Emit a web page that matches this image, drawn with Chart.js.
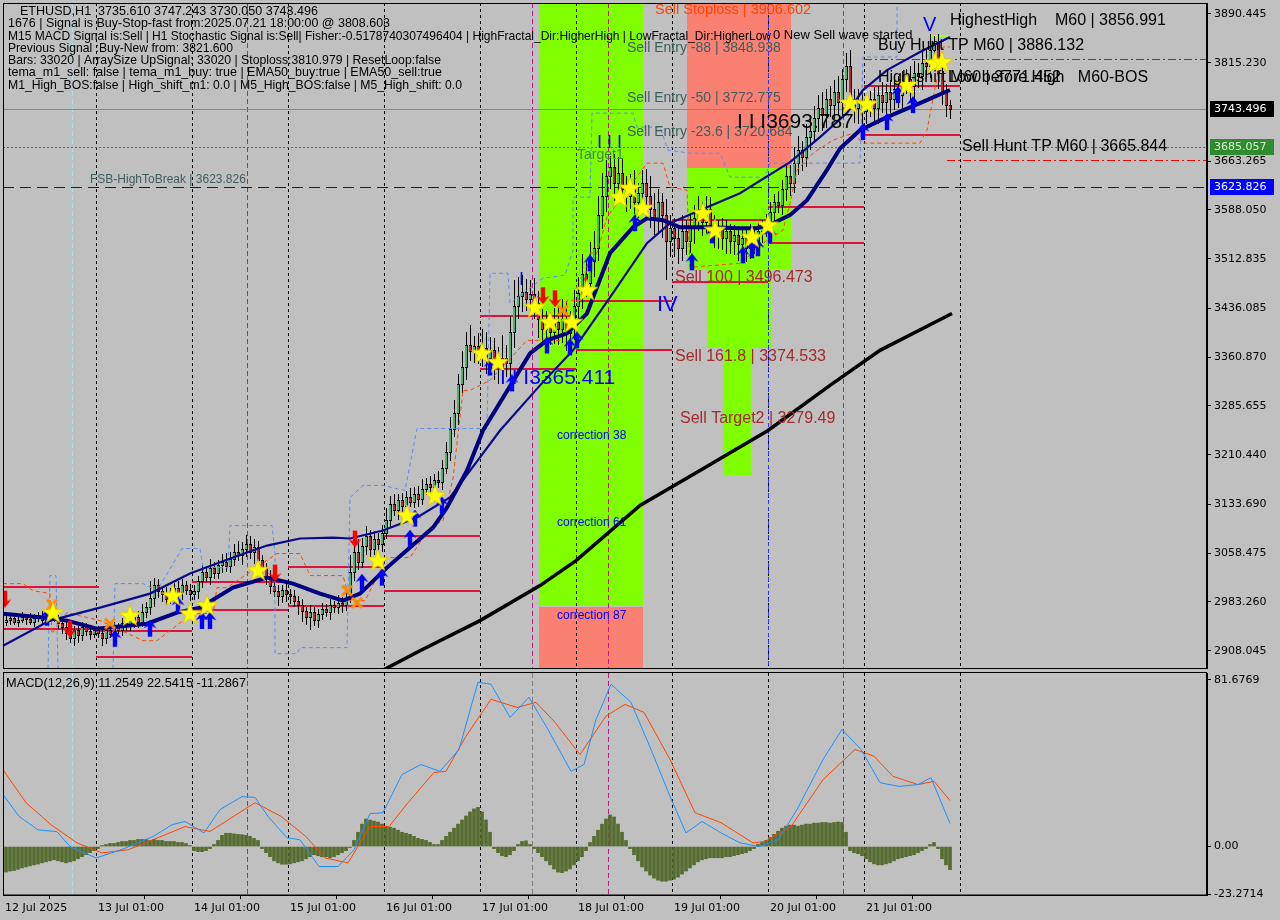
<!DOCTYPE html>
<html><head><meta charset="utf-8">
<script src="https://cdn.jsdelivr.net/npm/chart.js"></script>
<style>
html,body{margin:0;padding:0;background:#c0c0c0;width:1280px;height:920px;overflow:hidden}
#c1{position:absolute;left:0;top:0}
#c2{position:absolute;left:0;top:672px}
</style></head><body>
<canvas id="c1" width="1280" height="672"></canvas>
<canvas id="c2" width="1280" height="248"></canvas>
<script>
// ---------------- DATA ----------------
const dayLabels = ['12 Jul 2025','13 Jul 01:00','14 Jul 01:00','15 Jul 01:00','16 Jul 01:00','17 Jul 01:00','18 Jul 01:00','19 Jul 01:00','20 Jul 01:00','21 Jul 01:00'];
const dayTickIdx = [-0.75,22.5,46.5,70.5,94.5,118.5,142.5,166.5,190.5,214.5];
const daySeparators = [22.5,46.5,70.5,94.5,118.5,142.5,166.5,190.5,214.5,238.5];
const priceTicks = [3890.445,3815.230,3663.265,3588.050,3512.835,3436.085,3360.870,3285.655,3210.440,3133.690,3058.475,2983.260,2908.045];
const macdTicks = [81.6769,0,-23.2714];

const firstOpen = 2952;
const closes = [
2955,2958,2952,2956,2960,2957,2953,2958,2962,2955,2960,2964,2958,2950,2944,2936,2928,2940,2932,2945,2938,2934,2940,
2936,2928,2940,2934,2945,2940,2950,2946,2955,2960,2952,2968,2975,2990,3010,3000,2995,2988,2996,3005,2998,3010,3002,2995,
3000,3015,3030,3022,3035,3028,3040,3045,3038,3050,3060,3055,3065,3072,3060,3068,3048,3035,3020,3008,3000,2992,3002,2995,
2992,2985,2978,2970,2960,2968,2955,2965,2972,2968,2978,2975,2982,2978,2990,3030,3060,3045,3070,3085,3065,3080,3072,3090,
3110,3135,3125,3140,3132,3145,3138,3150,3142,3158,3165,3160,3172,3168,3190,3215,3250,3275,3320,3345,3380,3370,3378,3365,
3375,3360,3372,3355,3345,3360,3352,3400,3440,3455,3462,3450,3458,3445,3420,3405,3412,3400,3415,3405,3420,3398,3412,3440,
3460,3490,3475,3510,3530,3580,3610,3640,3655,3630,3645,3620,3610,3625,3600,3615,3630,3610,3590,3575,3600,3580,3540,3560,
3545,3530,3555,3540,3560,3575,3585,3570,3590,3565,3550,3560,3545,3555,3540,3550,3535,3545,3530,3548,3540,3555,3562,3570,
3585,3600,3595,3620,3640,3630,3660,3680,3670,3700,3710,3730,3745,3735,3760,3750,3770,3755,3790,3810,3760,3745,3755,3740,
3750,3760,3745,3765,3755,3770,3760,3775,3765,3785,3790,3780,3800,3795,3815,3810,3835,3845,3800,3770,3750,3743.496];
const upWick = [
6,5,8,4,7,5,9,6,5,8,6,7,10,5,6,8,12,6,8,7,5,9,6,
6,8,5,9,7,6,8,10,7,6,9,12,8,25,10,8,6,12,9,7,10,8,6,9,
10,8,12,9,15,10,8,12,14,10,12,18,10,15,13,12,10,8,9,12,8,10,7,9,
8,10,7,9,6,10,8,7,9,8,10,7,12,9,8,25,15,20,12,15,10,12,10,12,
18,12,15,10,12,9,14,10,12,15,10,12,9,14,12,15,18,20,15,25,20,30,15,20,
30,25,20,18,22,35,20,25,40,30,25,20,22,25,18,15,20,18,22,25,30,28,20,25,
25,30,20,28,25,30,35,25,17,20,25,22,20,18,25,15,20,22,30,25,20,15,25,20,
15,20,25,18,22,20,25,15,20,18,15,12,15,18,12,15,10,12,15,18,12,15,10,12,
15,12,18,15,20,18,25,22,15,20,25,18,20,25,15,20,18,25,15,20,25,15,20,18,
15,12,18,15,20,12,18,15,20,18,15,20,18,15,22,20,25,12,15,18,12,8];
const downWick = [
6,8,5,7,6,9,5,8,6,7,5,8,6,9,10,12,8,12,12,9,8,10,7,
8,12,9,7,10,6,9,8,7,12,9,8,10,12,15,10,12,9,8,10,9,12,8,10,
9,12,10,8,12,9,10,12,9,10,12,9,15,12,10,18,12,15,10,12,9,15,10,12,
12,10,15,18,12,20,9,12,10,8,12,9,10,12,9,8,15,12,10,15,12,10,9,12,
10,12,9,15,10,12,9,10,12,9,10,12,10,9,12,10,15,12,18,15,20,15,18,15,
20,25,18,30,25,20,22,28,25,20,25,18,20,25,30,22,25,20,18,25,22,28,20,25,
20,25,22,18,25,20,22,25,20,28,25,22,25,20,18,25,22,20,30,25,22,35,60,25,
30,25,20,22,18,25,20,22,18,25,20,22,18,25,20,22,25,20,22,18,20,15,18,15,
15,18,12,15,18,20,15,18,22,15,20,18,22,25,20,18,22,20,25,20,18,22,25,20,
20,18,22,25,18,20,22,18,20,22,18,25,20,18,22,20,18,22,25,20,18,15];

// moving averages read at key points [barIndex, price]
const maSlowPts = [[-0.75,2965.2],[9.25,2959.1],[15.25,2954.4],[22.75,2942.0],[35.25,2949.7],[42.75,2966.7],[48.5,2974.4],[56.75,3005.3],[65.25,3020.8],[71.75,3011.5],[78.5,2996.1],[84.25,2985.2],[88.5,2996.1],[95.25,3036.2],[101,3067.2],[106.75,3098.0],[110.25,3128.9],[115.25,3186.0],[119.25,3247.8],[131,3366.8],[135.25,3386.9],[140.25,3397.7],[145.25,3428.6],[151,3521.4],[156.75,3561.4],[160.25,3575.3],[164.25,3572.2],[168.5,3561.4],[175.25,3561.4],[183.5,3559.9],[187.75,3559.9],[191.75,3567.6],[196,3580.0],[200.25,3603.1],[205.25,3650],[208.5,3683],[213.5,3711.2],[220.25,3731.3],[228.5,3753.0],[236,3773.1]];
const maFastPts = [[-0.75,2915.7],[11,2954.4],[23.5,2974.4],[36,2996.1],[46,3027.0],[56.75,3051.7],[65.25,3070.2],[73.5,3081.1],[81.75,3082.6],[86,3081.1],[94.25,3093.4],[102.75,3113.5],[111,3144.4],[118.5,3206.2],[123.5,3247.8],[133.5,3317.4],[141.75,3371.4],[151,3453.3],[160.25,3536.7],[166,3567.6],[173.5,3587.7],[183.5,3613.9],[196,3661.8],[203.5,3700.4],[210.25,3737.5],[214.25,3773.1],[220.25,3803.9],[228.5,3831.7],[236,3854.9]];
const ma200Pts = [[93.5,2875.6],[103.5,2908],[118.5,2954.4],[133.5,3008.4],[142.5,3047.0],[158.5,3132.0],[173.5,3186.0],[190.5,3247.8],[206,3317.4],[218.5,3371.4],[236.5,3428.2]];
const bandUpperPts = [[10.5,2880.2],[11,3023.9],[12.5,3023.9],[13,2880.2],[null,null],[26.75,2880.2],[27.25,3011.5],[34.25,3011.5],[37.75,3000.7],[43,3054.8],[44,3065.6],[48.5,3065.6],[49.25,3036.2],[55.5,3036.2],[56,3101.1],[66.5,3101.1],[67.25,3059.4],[67.25,2903.4],[72.75,2903.4],[73.5,2912.7],[85.25,2912.7],[86,3144.4],[89.25,3162.9],[94.25,3162.9],[99.75,3155.2],[102.75,3250.9],[120.25,3250.9],[121,3490.4],[125.5,3490.4],[126,3444.0],[134.25,3482.7],[139.75,3487.3],[141.75,3525.9],[141.75,3607.8],[146,3607.8],[146.5,3737.5],[156.75,3737.5],[157.75,3715.9],[163.5,3715.9],[165.5,3680.4],[171,3675.7],[178.5,3675.7],[181,3638.7],[189.75,3638.7],[191,3660.3],[213.5,3660.3],[214.25,3824.0],[222.75,3824.0],[222.75,3901.3]];
const bandLowerPts = [[-0.75,3011.5],[4.25,3011.5],[6.75,3000.7],[11,2996.1],[11.5,2934.3],[15.25,2966.7],[23.5,2954.4],[34.25,2923.4],[37.75,2923.4],[46.5,2965.2],[51.75,2965.2],[52.75,3005.3],[55.25,3005.3],[67.75,3057.9],[73.5,3057.9],[76,3023.9],[84.25,3023.9],[86,2985.2],[89.75,2985.2],[95.25,3051.7],[101,3051.7],[106,3098.0],[109.25,3108.8],[111.75,3173.7],[114.25,3309.6],[116,3309.6],[121,3325.1],[130.25,3386.9],[138.5,3386.9],[140.25,3448.7],[143.5,3448.7],[146,3521.4],[147.75,3521.4],[150.25,3576.9],[160.25,3660.3],[164.25,3660.3],[166,3623.2],[170.25,3618.6],[171,3499.6],[183.5,3505.8],[190.25,3541.3],[194.25,3556.8],[196,3598.5],[197.75,3649.5],[201.75,3675.7],[206.75,3695.8],[211.75,3706.6],[214.25,3691.2],[228.5,3691.2],[230.25,3711.2],[234.25,3839.5],[236,3839.5]];

// signal markers [barIndex, price]
const starPts = [[11.75,2966.7],[31,2962.1],[41.75,2993.0],[46,2965.2],[50.25,2977.6],[63,3032.0],[93,3047.0],[100.25,3116.6],[107.25,3147.4],[119,3366.8],[123,3352.9],[132.25,3437.8],[136,3414.7],[141.5,3414.7],[145.25,3464.1],[153.5,3607.8],[156,3621.7],[159.25,3590.8],[174.25,3583.0],[177.25,3556.8],[186.5,3545.9],[190.5,3564.5],[211,3753.0],[215.25,3751.4],[225.25,3780.8],[232.25,3814.8],[234,3816.3]];
const buyArrowPts = [[10.25,2959],[27.25,2926.5],[36,2942],[43,2977.5],[49,2954],[51,2954],[89,3013],[94,3020.8],[101,3081],[102.25,3111.9],[109,3132],[121,3345],[126.5,3320.5],[135.25,3379],[141,3376],[142.75,3386.9],[146,3505.8],[157.25,3567.6],[171.5,3507.3],[176.5,3549],[184.25,3518],[186.5,3525.9],[188,3529],[191,3549],[214.25,3708.2],[220.25,3723.6],[223,3765.3],[226.75,3749.9]];
const sellArrowPts = [[-0.25,2988.3],[16,2942],[67.25,3028.5],[87.25,3081],[134.25,3456.4],[137.25,3451.8]];
const crossPts = [[11.5,2979],[26,2949.7],[85.25,3000.7],[87.75,2982],[139.25,3433.2]];

// zones [fromBar, toBar, lowPrice, highPrice]
const greenZones = [[133.25,159.25,2976,3910],[170.25,196.25,3496.473,3652.6],[175.25,191.25,3374.533,3496.473],[179.25,186.25,3178.3,3374.533]];
const salmonZones = [[133.25,159.25,2870,2976],[170.25,196.25,3652.6,3910]];

// daily range segments (upper, lower) per day
const dayUpper = [3006.9,2937.8,3013.5,3036.7,3085.7,3423.9,3447.6,3572.2,3592.3,3779.2];
const dayLower = [2942.0,2897.7,2971.3,2976.4,3000.7,3342.1,3372.5,3476.5,3536.7,3703.5];
const dayStart = [-0.75,22.5,46.5,70.5,94.5,118.5,142.5,166.5,190.5,214.5];

const currentPrice = 3743.496, target1Level = 3685.057, fsbLevel = 3623.826;
const buyHuntLevel = 3821.6, sellHuntLevel = 3665.844, highShiftLevel = 3771.452, highestHigh = 3857;

// MACD
const macdHist = [
-12.5,-12,-11.8,-11.2,-10.5,-10,-9.5,-9,-8.6,-8,-7.5,-7,-6.5,-7,-7.5,-8,-7.5,
-7,-6,-5,-4,-3,-2,
-1,0.5,1,1.5,1.5,2,2.5,2.5,3,3,3.5,3.5,3.5,3,3.5,3,3,2.5,2.5,2.5,2,2,1.5,0.5,
-2,-2.5,-2.5,-2,-1,1,
3,5.5,6.5,6.5,6.2,6,5.8,5.5,5,4,3,
-1,-3,-5,-7,-8,-8.7,-8.7,-8.5,-8,-7.5,-7,-6,-5,-4,-4.5,-5,
-5,-5.5,-5,-4,-3,-2,-0.5,
3,7,11,13.5,13,12.5,12,11,10,9.5,9,8,7,6.5,6,5,4,3.5,3,2,1,
1,3,5,7,9,11,13,15,17,18.5,19.2,17,13,7,
-1,-3,-4.5,-5,-4,-2,1,2.5,2.8,
1,-1,
-3,-5,-7,-9,-11,-12.5,-12.8,-12,-11,-9,-7,-5,-2,
2,5,8,11,13.5,15.5,14.5,11,7,3,
-1,-4,-7,-10,-12,-14,-15.5,-16.5,-17,-17,-16.5,-16,-15,-13.5,-12,-10.5,-9,-7.5,-6.5,-6,-5.5,-5.5,-5.5,-5.5,-5,-5,-4.5,-4,-3.5,-3,-2,-1,
1,2,3,4.5,6,7.5,9,10,10.5,10.5,10,10.5,11,11,11.5,11.5,11.8,11.8,11.5,11.8,12,11.8,7,
-2,-3,-3.5,-4.5,-6,-7.5,-8.5,-9,-9,-8.5,-8,-7,-6,-5.5,-5,-4.5,-4,-3,-2,-1,1,2,-1,-6,-9,-11.3];
const macdPts = [[-0.75,25.5],[3.25,14.8],[8,8.2],[12.75,7.3],[16,0],[22.5,-5.6],[28.75,-1.6],[36.75,4.9],[41.5,10.7],[44.75,12.3],[49.5,6.7],[53.5,18.1],[59,24.5],[62.25,24.1],[65.5,14.8],[70.25,4.3],[73.5,3.3],[78.25,-9.8],[83,-9.8],[87,-1.6],[91,16.1],[94.25,16.6],[99,35.3],[103.75,40.2],[108.5,36.9],[113.25,47.6],[118,80.6],[121.25,79.6],[126,63.3],[130.75,73.2],[135.5,57.4],[141.25,36.9],[144.5,40.2],[147.5,62.3],[151.25,79.6],[156.25,70.7],[161.25,47.6],[166,24.6],[170,6.7],[174,12.3],[178.75,6.7],[183.5,1.8],[188.25,0],[193,3.3],[197.75,18.1],[204.25,42.7],[209,57.4],[213.75,47.6],[218.5,31.3],[223.25,29.5],[228,30.4],[231.25,33.8],[236,11.2549]];
const signalPts = [[-0.75,37.7],[5,21.5],[11.25,10.7],[17.75,1.8],[24,-3.1],[30.5,-1.6],[36.75,3.3],[44.75,9.8],[51,7.4],[62.25,21.5],[68.75,14.8],[75,4.9],[79.75,-5.6],[85.5,-8.0],[91,9.8],[95.75,9.8],[100.5,21.5],[107,36.3],[110,36.9],[115,54.1],[121.25,72.2],[127.75,68.2],[132.5,70.7],[137.25,60.9],[143.5,45.1],[150,64.0],[154.75,69.7],[159.5,65.8],[166,42.7],[172.25,16.6],[178.75,11.7],[186.75,1.8],[189.75,2.5],[196.25,9.8],[204.25,32.8],[212.25,47.6],[217,44.3],[221.75,34.4],[228,30.4],[232,32.0],[236,22.5415]];

// ---------------- LAYOUT / STYLE ----------------
const X_MIN=-0.75, X_MAX=300.25, P_MIN=2881.3, P_MAX=3907.4;
const SANS='"Liberation Sans", Arial, sans-serif', AXF='"DejaVu Sans", sans-serif';
const infoLines = [
 ['ETHUSD,H1  3735.610 3747.243 3730.050 3743.496',20,12,298],
 ['1676 | Signal is Buy-Stop-fast from:2025.07.21 18:00:00 @ 3808.603',8,24,382],
 ['M15 MACD Signal is:Sell | H1 Stochastic Signal is:Sell| Fisher:-0.5178740307496404 | HighFractal_Dir:HigherHigh | LowFractal_Dir:HigherLow',8,37,763],
 ['Previous Signal :Buy-New from: 3821.600',8,49,225],
 ['Bars: 33020 | ArraySize UpSignal: 33020 | Stoploss:3810.979 | ResetLoop:false',8,61,433],
 ['tema_m1_sell: false | tema_m1_buy: true | EMA50_buy:true | EMA50_sell:true',8,73,434],
 ['M1_High_BOS:false | High_shift_m1: 0.0 | M5_High_BOS:false | M5_High_shift: 0.0',8,86,454]];
const notes = [
 ['Sell Stoploss | 3906.602',162.25,3896.6,'#FF4500',14.5],
 ['Sell Entry -88 | 3848.938',155.25,3837.9,'#3E5E5E',14],
 ['Sell Entry -50 | 3772.775',155.25,3760.7,'#3E5E5E',14],
 ['Sell Entry -23.6 | 3720.684',155.25,3708.2,'#3E5E5E',14],
 ['Target1',142.75,3672.6,'#3C8C3C',14],
 ['I I I',147.75,3692,'#0000FF',18],
 ['I',128.25,3480,'#0000FF',18],
 ['IV',162.75,3441,'#0000FF',22],
 ['V',229.25,3872,'#0000FF',20],
 ['I I I3365.411',123.5,3328.2,'#0000FF',21],
 ['I I I3693.787',182.75,3723.6,'#000000',21],
 ['0 New Sell wave started',191.75,3858,'#000000',13],
 ['HighestHigh    M60 | 3856.991',236,3879.6,'#000000',16],
 ['Buy Hunt TP M60 | 3886.132',218,3841.0,'#000000',16],
 ['High-shift M60 | 3771.452',218,3793,'#000000',16],
 ['Low before High   M60-BOS',235.5,3793,'#000000',16],
 ['Sell Hunt TP M60 | 3665.844',239,3686.6,'#000000',16],
 ['FSB-HighToBreak | 3623.826',21,3634,'#3E5E5E',12],
 ['Sell 100 | 3496.473',167.25,3484.2,'#A52A2A',16],
 ['Sell 161.8 | 3374.533',167.25,3362.2,'#A52A2A',16],
 ['Sell Target2 | 3279.49',168.5,3266.4,'#A52A2A',16],
 ['correction 38',137.75,3240.1,'#0000FF',12],
 ['correction 61',137.75,3105.7,'#0000FF',12],
 ['correction 87',137.75,2962.1,'#0000FF',12]];
const magentaLines=[60.25,131.4,150.4,209.25];

// ---------------- MARKER IMAGES ----------------
function starImg(){const c=document.createElement('canvas');c.width=c.height=24;const g=c.getContext('2d');g.beginPath();for(let k=0;k<10;k++){const r=k%2?4.6:11.5;const a=-Math.PI/2+k*Math.PI/5;g.lineTo(12+r*Math.cos(a),12.5+r*Math.sin(a));}g.closePath();g.fillStyle='#FFFF00';g.fill();g.strokeStyle='#D8C000';g.lineWidth=0.7;g.stroke();return c;}
function arrowImg(col,down){const c=document.createElement('canvas');c.width=14;c.height=18;const g=c.getContext('2d');if(down){g.translate(0,18);g.scale(1,-1);}g.fillStyle=col;g.beginPath();g.moveTo(7,0);g.lineTo(13.5,8.5);g.lineTo(9.2,6.5);g.lineTo(9.2,17);g.lineTo(4.8,17);g.lineTo(4.8,6.5);g.lineTo(0.5,8.5);g.closePath();g.fill();return c;}
function crossImg(){const c=document.createElement('canvas');c.width=c.height=14;const g=c.getContext('2d');g.strokeStyle='#FF8C00';g.lineWidth=3;g.beginPath();g.moveTo(2,2);g.lineTo(12,12);g.moveTo(12,2);g.lineTo(2,12);g.stroke();return c;}
const pts = a => a.map(([x,y])=>({x,y}));

function vline(ctx,xp,top,bot,col,dash){ctx.save();ctx.strokeStyle=col;ctx.lineWidth=1;ctx.setLineDash(dash);ctx.beginPath();ctx.moveTo(Math.round(xp)+0.5,top);ctx.lineTo(Math.round(xp)+0.5,bot);ctx.stroke();ctx.restore();}
function hline(ctx,x0,x1,yp,col,dash,w){ctx.save();ctx.strokeStyle=col;ctx.lineWidth=w||1;ctx.setLineDash(dash||[]);const yy=(w&&w%2===0)?Math.round(yp):Math.round(yp)+0.5;ctx.beginPath();ctx.moveTo(x0,yy);ctx.lineTo(x1,yy);ctx.stroke();ctx.restore();}

const mainPlugin = {
 id:'mainDecor',
 beforeDraw(ch){const c=ch.ctx;c.save();c.fillStyle='#C0C0C0';c.fillRect(0,0,ch.width,ch.height);c.restore();},
 beforeDatasetsDraw(ch){
  const c=ch.ctx,a=ch.chartArea,x=ch.scales.x,y=ch.scales.y;
  c.save();c.beginPath();c.rect(a.left,a.top,a.right-a.left,a.bottom-a.top);c.clip();
  const box=(b,col)=>{const x0=x.getPixelForValue(b[0]),x1=x.getPixelForValue(b[1]),y0=y.getPixelForValue(b[3]),y1=y.getPixelForValue(b[2]);c.fillStyle=col;c.fillRect(Math.round(x0),Math.round(y0),Math.round(x1-x0),Math.round(y1-y0));};
  salmonZones.forEach(b=>box(b,'#FA8072'));greenZones.forEach(b=>box(b,'#7FFF00'));
  daySeparators.forEach(v=>vline(c,x.getPixelForValue(v),a.top,a.bottom,'#000',[3,3]));
  vline(c,x.getPixelForValue(190.4),a.top,a.bottom,'#3030FF',[4,3]);
  magentaLines.forEach(v=>vline(c,x.getPixelForValue(v),a.top,a.bottom,'#C8148C',[5,3]));
  vline(c,x.getPixelForValue(16.4),a.top,a.bottom,'#A8E0F0',[5,3]);
  hline(c,a.left,a.right,y.getPixelForValue(currentPrice),'#7A8A9A',[]);
  hline(c,a.left,a.right,y.getPixelForValue(target1Level),'#1C8C1C',[2,2]);
  hline(c,a.left,a.right,y.getPixelForValue(fsbLevel),'#0000FF',[11,6]);
  hline(c,x.getPixelForValue(214.5),a.right,y.getPixelForValue(buyHuntLevel),'#FF0000',[8,3,2,3]);
  hline(c,x.getPixelForValue(235.25),a.right,y.getPixelForValue(sellHuntLevel),'#FF0000',[8,3,2,3]);
  hline(c,x.getPixelForValue(214.25),x.getPixelForValue(228.5),y.getPixelForValue(highShiftLevel),'#FFFFFF',[4,3]);
  hline(c,x.getPixelForValue(231),x.getPixelForValue(236),y.getPixelForValue(highestHigh),'#9AFF30',[],2);
  for(let d=0;d<dayStart.length;d++){const x0=x.getPixelForValue(dayStart[d]),x1=x.getPixelForValue(dayStart[d]+24);
    hline(c,x0,x1,y.getPixelForValue(dayUpper[d]),'#DC143C',[],2);hline(c,x0,x1,y.getPixelForValue(dayLower[d]),'#DC143C',[],2);}
  // candles
  for(let i=0;i<closes.length;i++){
   const o=i?closes[i-1]:firstOpen,cl=closes[i];
   const hi=Math.max(o,cl)+upWick[i],lo=Math.min(o,cl)-downWick[i];
   const px=Math.round(x.getPixelForValue(i));
   c.strokeStyle='#000';c.lineWidth=1;c.setLineDash([]);
   c.beginPath();c.moveTo(px+0.5,Math.round(y.getPixelForValue(hi)));c.lineTo(px+0.5,Math.round(y.getPixelForValue(lo)));c.stroke();
   const yt=Math.round(y.getPixelForValue(Math.max(o,cl))),yb=Math.round(y.getPixelForValue(Math.min(o,cl)));
   const h=Math.max(1,yb-yt);
   c.fillStyle='#000';c.fillRect(px-1,yt,3,h+1);
   if(h>1){c.fillStyle=cl>=o?'#2FBF71':'#C0282D';c.fillRect(px-1,yt+1,2,h-1);}
  }
  c.restore();
 },
 afterDatasetsDraw(ch){
  const c=ch.ctx,a=ch.chartArea,x=ch.scales.x,y=ch.scales.y;
  c.save();c.beginPath();c.rect(a.left,a.top,a.right-a.left,a.bottom-a.top);c.clip();
  c.textBaseline='middle';c.textAlign='left';
  notes.forEach(([t,i,p,col,fs])=>{c.font=fs+'px '+SANS;c.fillStyle=col;c.fillText(t,x.getPixelForValue(i),y.getPixelForValue(p));});
  c.restore();
 },
 afterDraw(ch){
  const c=ch.ctx,a=ch.chartArea,y=ch.scales.y;
  c.save();c.strokeStyle='#000';c.lineWidth=1;c.strokeRect(a.left+0.5,a.top+0.5,a.right-a.left-1,a.bottom-a.top);
  c.textBaseline='middle';c.textAlign='left';c.fillStyle='#000';
  infoLines.forEach(([t,xx,yy,w])=>{c.font='12.6px '+SANS;c.fillText(t,xx,yy,w);});
  const tag=(p,bg,fg)=>{const yy=Math.round(y.getPixelForValue(p));c.fillStyle=bg;c.fillRect(a.right+3,yy-8,64,16);c.fillStyle=fg;c.font='11px '+AXF;c.fillText(p.toFixed(3),a.right+7,yy+0.5);};
  tag(currentPrice,'#000000','#FFFFFF');tag(target1Level,'#2E8B2E','#D8F5D8');tag(fsbLevel,'#0000FF','#FFFFFF');
  c.restore();
 }
};

const macdPlugin = {
 id:'macdDecor',
 beforeDraw(ch){const c=ch.ctx;c.save();c.fillStyle='#C0C0C0';c.fillRect(0,0,ch.width,ch.height);c.restore();},
 beforeDatasetsDraw(ch){
  const c=ch.ctx,a=ch.chartArea,x=ch.scales.x;
  c.save();c.beginPath();c.rect(a.left,a.top,a.right-a.left,a.bottom-a.top);c.clip();
  daySeparators.forEach(v=>vline(c,x.getPixelForValue(v),a.top,a.bottom,'#000',[3,3]));
  magentaLines.forEach((v,k)=>vline(c,x.getPixelForValue(v),a.top,a.bottom,k===1?'#808080':'#C8148C',[5,3]));
  vline(c,x.getPixelForValue(16.4),a.top,a.bottom,'#A8E0F0',[5,3]);
  c.restore();
 },
 afterDraw(ch){
  const c=ch.ctx,a=ch.chartArea;
  c.save();c.strokeStyle='#000';c.lineWidth=1;c.strokeRect(a.left+0.5,a.top-0.5,a.right-a.left-1,a.bottom-a.top+0.5);
  c.fillStyle='#000';c.textBaseline='middle';c.font='12.8px '+SANS;c.fillText('MACD(12,26,9) 11.2549 22.5415 -11.2867',6,11,240);
  c.restore();
 }
};

const zeroPad = s => { s.paddingTop=0; s.paddingBottom=0; s.paddingLeft=0; s.paddingRight=0; };
const axisFont={family:'DejaVu Sans',size:11};
new Chart(document.getElementById('c1'),{
 type:'line',
 data:{datasets:[
  {type:'scatter',data:pts(starPts),pointStyle:starImg(),pointRadius:11,order:0},
  {type:'scatter',data:pts(buyArrowPts),pointStyle:arrowImg('#0000FF',false),pointRadius:9,order:0},
  {type:'scatter',data:pts(sellArrowPts),pointStyle:arrowImg('#FF0000',true),pointRadius:9,order:0},
  {type:'scatter',data:pts(crossPts),pointStyle:crossImg(),pointRadius:7,order:0},
  {data:pts(maSlowPts),borderColor:'#000080',borderWidth:4,pointRadius:0,order:5},
  {data:pts(maFastPts),borderColor:'#0A0A8A',borderWidth:2.2,pointRadius:0,order:5},
  {data:pts(ma200Pts),borderColor:'#000000',borderWidth:3.5,pointRadius:0,order:6},
  {data:pts(bandUpperPts),borderColor:'#5B8FF0',borderWidth:1,borderDash:[4,3],pointRadius:0,spanGaps:false,order:9},
  {data:pts(bandLowerPts),borderColor:'#FF4500',borderWidth:1,borderDash:[4,3],pointRadius:0,order:9}
 ]},
 options:{responsive:false,animation:false,events:[],
  layout:{autoPadding:false,padding:{left:3,top:3,right:0,bottom:4}},
  plugins:{legend:{display:false},tooltip:{enabled:false}},
  scales:{
   x:{type:'linear',min:X_MIN,max:X_MAX,display:false},
   y:{position:'right',min:P_MIN,max:P_MAX,
      afterFit(s){s.width=73;zeroPad(s);},
      afterBuildTicks(s){s.ticks=priceTicks.map(v=>({value:v}));},
      ticks:{autoSkip:false,callback:v=>Number(v).toFixed(3),font:axisFont,color:'#000',padding:3},
      grid:{drawOnChartArea:false,drawTicks:true,tickLength:4,color:'#000'},
      border:{display:true,color:'#000'}}
  }},
 plugins:[mainPlugin]
});

new Chart(document.getElementById('c2'),{
 type:'line',
 data:{datasets:[
  {type:'line',data:pts(macdPts),borderColor:'#1E90FF',borderWidth:1,pointRadius:0,order:1},
  {type:'line',data:pts(signalPts),borderColor:'#FF4500',borderWidth:1,pointRadius:0,order:1},
  {type:'bar',data:macdHist.map((v,i)=>({x:i,y:v})),backgroundColor:'#556B2F',barThickness:3,grouped:false,order:3}
 ]},
 options:{responsive:false,animation:false,events:[],
  layout:{autoPadding:false,padding:{left:3,top:1,right:0,bottom:0}},
  plugins:{legend:{display:false},tooltip:{enabled:false}},
  scales:{
   x:{type:'linear',min:X_MIN,max:X_MAX,offset:false,
      afterFit(s){s.height=25;zeroPad(s);},
      afterBuildTicks(s){s.ticks=dayTickIdx.map(v=>({value:v}));},
      ticks:{autoSkip:false,maxRotation:0,align:'start',labelOffset:2,padding:3,callback:(v,i)=>dayLabels[i],font:axisFont,color:'#000'},
      grid:{drawOnChartArea:false,drawTicks:true,tickLength:4,color:'#000'},
      border:{display:true,color:'#000'}},
   y:{position:'right',min:-23.76,max:85.1,
      afterFit(s){s.width=73;zeroPad(s);},
      afterBuildTicks(s){s.ticks=macdTicks.map(v=>({value:v}));},
      ticks:{autoSkip:false,callback:v=>v===0?'0.00':Number(v).toFixed(4),font:axisFont,color:'#000',padding:3},
      grid:{drawOnChartArea:false,drawTicks:true,tickLength:4,color:'#000'},
      border:{display:true,color:'#000'}}
  }},
 plugins:[macdPlugin]
});
</script></body></html>
